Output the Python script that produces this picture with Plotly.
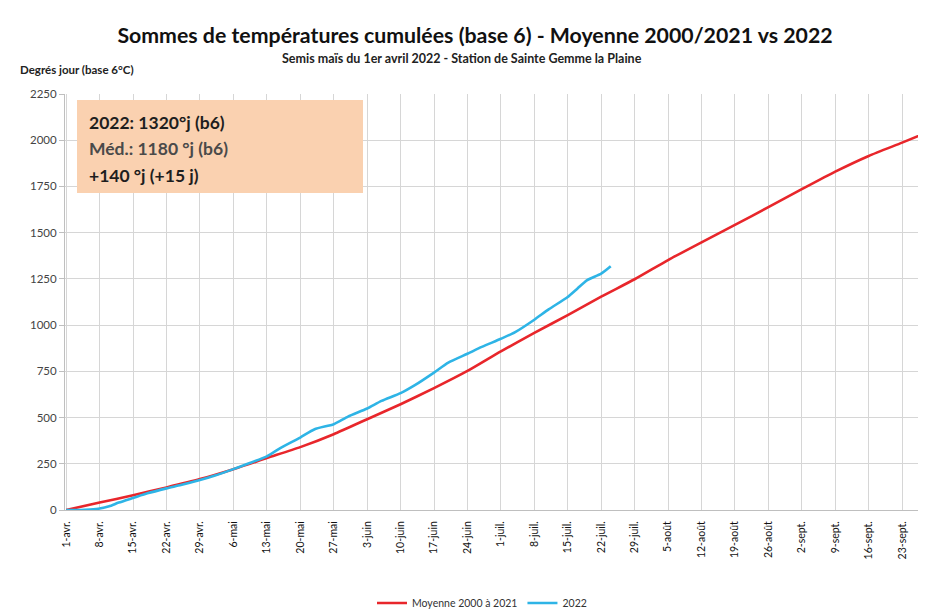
import plotly.graph_objects as go
import pandas as pd

# ---- Data ----
start = pd.Timestamp("2022-04-01")

moy_days = [0, 7, 14, 21, 28, 35, 42, 49, 56, 63, 70, 77, 84, 91, 98, 105, 112,
            119, 126, 133, 140, 147, 154, 161, 168, 175, 180]
moy_values = [0, 40, 80, 122, 167, 221, 281, 340, 410, 491, 572, 659, 752, 858, 958,
              1054, 1154, 1248, 1352, 1448, 1542, 1638, 1735, 1830, 1915, 1987, 2040]

y2022_days = [0, 3, 5, 7, 9, 11, 14, 17, 21, 24, 28, 31, 35, 38, 42, 45, 49, 52, 56,
              59, 63, 66, 70, 73, 77, 80, 84, 87, 91, 94, 98, 101, 105, 107, 109, 112, 114]
y2022_values = [0, 0, 3, 8, 20, 40, 65, 90, 117, 135, 162, 185, 221, 250, 290, 338, 392,
                437, 464, 505, 549, 590, 632, 675, 743, 797, 845, 882, 926, 962, 1029,
                1085, 1152, 1197, 1242, 1278, 1318]

tick_labels = ["1-avr.", "8-avr.", "15-avr.", "22-avr.", "29-avr.", "6-mai", "13-mai",
               "20-mai", "27-mai", "3-juin", "10-juin", "17-juin", "24-juin", "1-juil.",
               "8-juil.", "15-juil.", "22-juil.", "29-juil.", "5-août", "12-août",
               "19-août", "26-août", "2-sept.", "9-sept.", "16-sept.", "23-sept."]
y_ticks = [0, 250, 500, 750, 1000, 1250, 1500, 1750, 2000, 2250]

moy_dates = [start + pd.Timedelta(days=d) for d in moy_days]
y2022_dates = [start + pd.Timedelta(days=d) for d in y2022_days]
tick_dates = [start + pd.Timedelta(days=7 * i) for i in range(len(tick_labels))]

FONT = "Lato"
RED = "#E8262B"
BLUE = "#2EB4E6"

# page offset of the figure (body margin)
OFF = 8
W, H = 926 - OFF, 609 - OFF
L, T = 65 - OFF, 94 - OFF
B = H - (510 - OFF)
PW, PH = W - L, H - T - B


def px(p):
    return (p - 65) / PW


def py(p):
    return (510 - p) / PH


fig = go.Figure()
fig.add_trace(go.Scatter(x=moy_dates, y=moy_values, mode="lines",
                         name="Moyenne 2000 à 2021",
                         line=dict(color=RED, width=2.6, shape="spline", smoothing=0.6)))
fig.add_trace(go.Scatter(x=y2022_dates, y=y2022_values, mode="lines",
                         name="2022",
                         line=dict(color=BLUE, width=2.6, shape="spline", smoothing=0.6)))

fig.update_layout(
    width=W, height=H,
    margin=dict(l=L, r=0, t=T, b=B, autoexpand=False),
    paper_bgcolor="white", plot_bgcolor="white",
    font=dict(family=FONT, color="#333333"),
    title=dict(text="<b>Sommes de températures cumulées (base 6) - Moyenne 2000/2021 vs 2022</b>",
               x=(475 - OFF) / W, xanchor="center", y=1 - (36 - OFF) / H, yanchor="middle",
               font=dict(size=21.3, color="#111111", family=FONT)),
    showlegend=True,
    legend=dict(orientation="h", x=px(482), xanchor="center", y=py(603), yanchor="middle",
                font=dict(size=10.5, color="#333333"), itemwidth=30,
                bgcolor="rgba(0,0,0,0)"),
    xaxis=dict(
        type="date",
        range=[start - pd.Timedelta(hours=6), start + pd.Timedelta(days=180)],
        tickmode="array", tickvals=tick_dates, ticktext=tick_labels,
        tickangle=-90, tickfont=dict(size=10.5, color="#111111"),
        ticklabelstandoff=6,
        showgrid=True, gridcolor="#D6D6D6", gridwidth=1,
        showline=True, linecolor="#BFBFBF", linewidth=1,
        ticks="", zeroline=False,
    ),
    yaxis=dict(
        range=[0, 2250], tickmode="array", tickvals=y_ticks,
        tickfont=dict(size=11.5, color="#444444"),
        showgrid=True, gridcolor="#D6D6D6", gridwidth=1,
        showline=True, linecolor="#BFBFBF", linewidth=1,
        ticks="outside", ticklen=5, tickcolor="#BFBFBF",
        zeroline=False,
    ),
)

# Subtitle
fig.add_annotation(text="<b>Semis maïs du 1er avril 2022 - Station de Sainte Gemme la Plaine</b>",
                   xref="paper", yref="paper", x=px(462), y=py(59),
                   xanchor="center", yanchor="middle", showarrow=False,
                   font=dict(size=12.5, color="#222222", family=FONT))
# Y-axis title
fig.add_annotation(text="<b>Degrés jour (base 6°C)</b>",
                   xref="paper", yref="paper", x=px(18), y=py(70),
                   xanchor="left", yanchor="middle", showarrow=False,
                   font=dict(size=11.5, color="#222222", family=FONT))

# Info box
fig.add_shape(type="rect", xref="paper", yref="paper",
              x0=px(77), x1=px(363), y0=py(193), y1=py(100),
              fillcolor="#FAD1B0", line=dict(width=0), layer="above")
box_lines = [("<b>2022: 1320°j (b6)</b>", 122, "#1E1E1E"),
             ("<b>Méd.: 1180 °j (b6)</b>", 148, "#4A4A4A"),
             ("<b>+140 °j (+15 j)</b>", 175, "#1E1E1E")]
for txt, ypix, col in box_lines:
    fig.add_annotation(text=txt, xref="paper", yref="paper",
                       x=px(87), y=py(ypix),
                       xanchor="left", yanchor="middle", showarrow=False,
                       font=dict(size=17.5, color=col, family=FONT))

fig.write_html("out.html")
